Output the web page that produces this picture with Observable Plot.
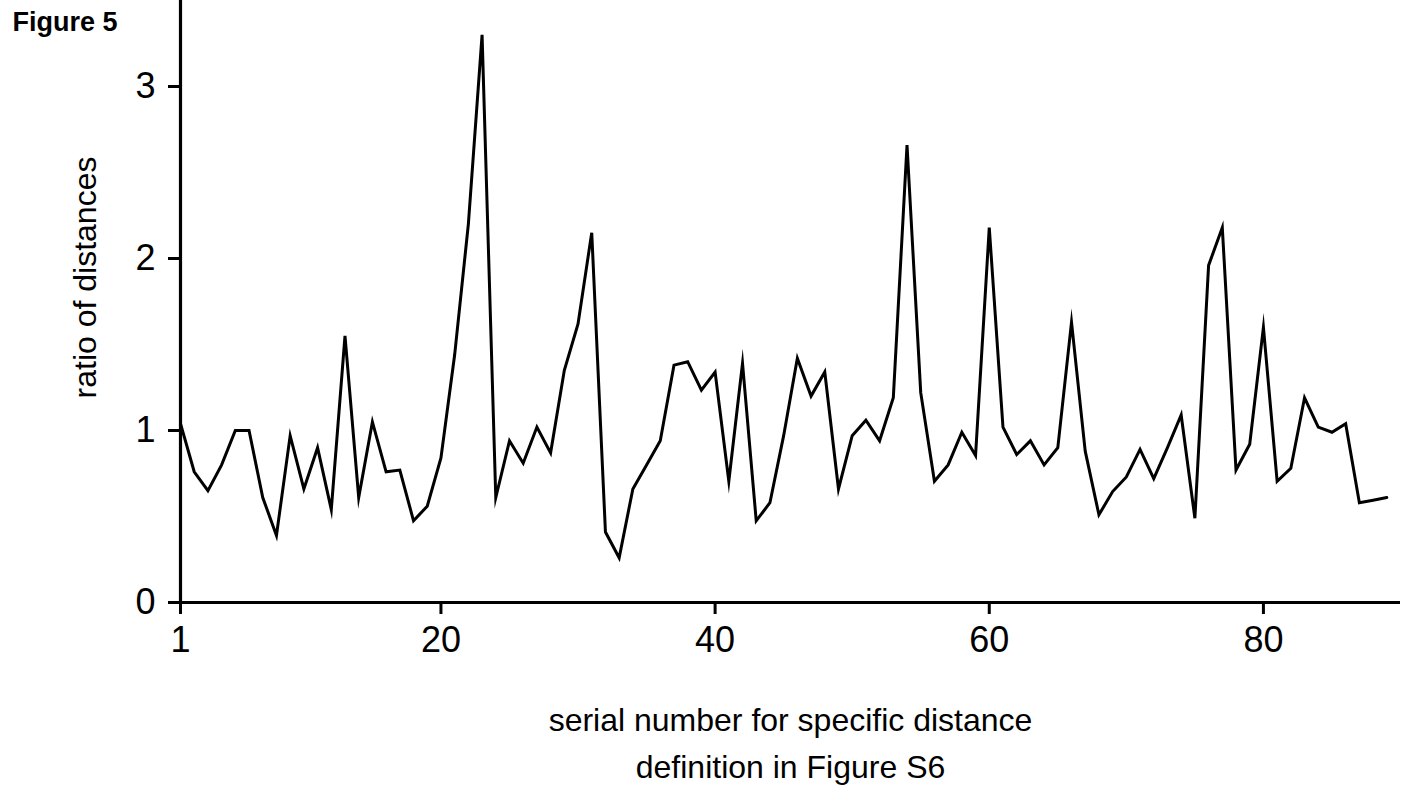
<!DOCTYPE html>
<html>
<head>
<meta charset="utf-8">
<script src="https://cdn.jsdelivr.net/npm/d3@7"></script>
<script src="https://cdn.jsdelivr.net/npm/@observablehq/plot@0.6"></script>
<style>
  html, body { margin: 0; padding: 0; background: #fff; }
  #chart { width: 1403px; height: 792px; }
</style>
</head>
<body>
<div id="chart"></div>
<script>
// serial numbers (1..89) for specific distance definitions
const serial = [
  1, 2, 3, 4, 5, 6, 7, 8, 9, 10,
  11, 12, 13, 14, 15, 16, 17, 18, 19, 20,
  21, 22, 23, 24, 25, 26, 27, 28, 29, 30,
  31, 32, 33, 34, 35, 36, 37, 38, 39, 40,
  41, 42, 43, 44, 45, 46, 47, 48, 49, 50,
  51, 52, 53, 54, 55, 56, 57, 58, 59, 60,
  61, 62, 63, 64, 65, 66, 67, 68, 69, 70,
  71, 72, 73, 74, 75, 76, 77, 78, 79, 80,
  81, 82, 83, 84, 85, 86, 87, 88, 89
];
// ratio of distances
const ratio = [
  1.04, 0.76, 0.65, 0.80, 1.00, 1.00, 0.61, 0.39, 0.97, 0.66,
  0.90, 0.54, 1.55, 0.61, 1.05, 0.76, 0.77, 0.475, 0.56, 0.84,
  1.44, 2.20, 3.30, 0.61, 0.94, 0.81, 1.02, 0.87, 1.35, 1.62,
  2.15, 0.41, 0.26, 0.66, 0.80, 0.94, 1.38, 1.40, 1.235, 1.34,
  0.705, 1.39, 0.475, 0.58, 0.97, 1.42, 1.20, 1.34, 0.66, 0.97,
  1.06, 0.94, 1.19, 2.66, 1.22, 0.705, 0.80, 0.99, 0.855, 2.18,
  1.02, 0.86, 0.94, 0.80, 0.90, 1.63, 0.88, 0.51, 0.645, 0.73,
  0.89, 0.72, 0.90, 1.09, 0.49, 1.96, 2.18, 0.77, 0.92, 1.60,
  0.705, 0.78, 1.19, 1.02, 0.99, 1.04, 0.58, 0.595, 0.61
];
const xTicks = [1, 20, 40, 60, 80];
const yTicks = [0, 1, 2, 3];
const yTitle = "ratio of distances";
const xTitleLines = ["serial number for specific distance", "definition in Figure S6"];
const figLabel = "Figure 5";

const data = serial.map((s, i) => ({serial: s, ratio: ratio[i]}));

const font = "'Liberation Sans', Arial, Helvetica, sans-serif";

const chart = Plot.plot({
  width: 1403,
  height: 792,
  marginLeft: 180,
  marginRight: 3,
  marginTop: 0,
  marginBottom: 190,
  style: {fontFamily: font, color: "black", background: "white", overflow: "visible"},
  x: {domain: [1, 90]},
  y: {domain: [0, 3.5]},
  marks: [
    Plot.axisX({ticks: xTicks, tickSize: 12, tickPadding: 12, stroke: "black", strokeWidth: 3, fontSize: 36, label: null, tickFormat: d => String(d)}),
    Plot.axisY({ticks: yTicks, tickSize: 12, tickPadding: 13, stroke: "black", strokeWidth: 3, fontSize: 36, label: null, tickFormat: d => String(d)}),
    Plot.ruleX([1], {stroke: "black", strokeWidth: 3.2}),
    Plot.ruleY([0], {stroke: "black", strokeWidth: 3.2}),
    Plot.line(data, {x: "serial", y: "ratio", stroke: "black", strokeWidth: 3, strokeLinejoin: "miter", strokeMiterlimit: 10}),
    Plot.text([yTitle], {frameAnchor: "left", dx: -95, dy: -24, rotate: -90, textAnchor: "middle", lineAnchor: "middle", fontSize: 32, fill: "black"}),
    Plot.text([xTitleLines[0]], {frameAnchor: "bottom", dy: 118, textAnchor: "middle", lineAnchor: "middle", fontSize: 32, fill: "black"}),
    Plot.text([xTitleLines[1]], {frameAnchor: "bottom", dy: 165, textAnchor: "middle", lineAnchor: "middle", fontSize: 32, fill: "black"}),
    Plot.text([figLabel], {frameAnchor: "top-left", dx: -168, dy: 22, textAnchor: "start", lineAnchor: "middle", fontSize: 27, fontWeight: "bold", fill: "black"})
  ]
});
document.getElementById("chart").appendChild(chart);
</script>
</body>
</html>
